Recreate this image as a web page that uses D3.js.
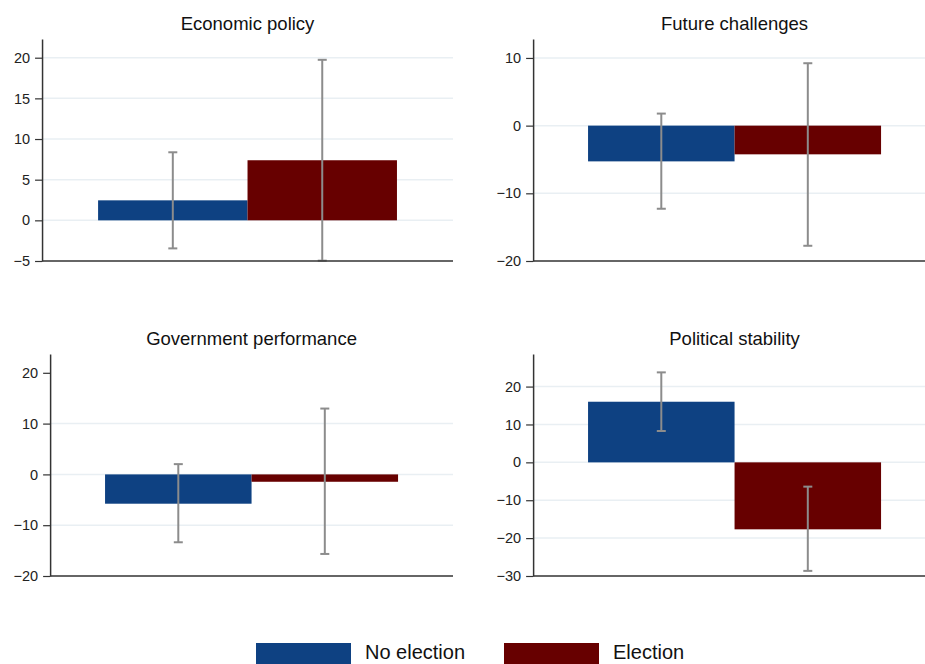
<!DOCTYPE html>
<html>
<head>
<meta charset="utf-8">
<script src="https://cdn.jsdelivr.net/npm/d3@7"></script>
<style>
  html, body { margin: 0; padding: 0; background: #fff; }
  svg { display: block; font-family: "Liberation Sans", Arial, Helvetica, sans-serif; }
</style>
</head>
<body>
<svg id="chart" width="925" height="664"></svg>
<script>
// Panel titles and the two groups compared in each panel
const panels = ["Economic policy", "Future challenges", "Government performance", "Political stability"];
const groups = ["No election", "Election"];
const colors = ["#0e4182", "#670000"];

// Point estimates per panel
const noElection = [2.46, -5.28, -5.77, 16.0];
const election   = [7.39, -4.24, -1.45, -17.68];

// Confidence intervals per panel
const noElectionLo = [-3.45, -12.28, -13.36, 8.28];
const noElectionHi = [8.37, 1.78, 2.02, 23.75];
const electionLo   = [-4.96, -17.75, -15.66, -28.65];
const electionHi   = [19.74, 9.22, 12.96, -6.41];

// Y axis ranges, tick labels and gridlines per panel
const yDomains = [[-5, 22.3], [-20, 12.8], [-20, 23.7], [-30, 28.6]];
const yTicks = [
  [-5, 0, 5, 10, 15, 20],
  [-20, -10, 0, 10],
  [-20, -10, 0, 10, 20],
  [-30, -20, -10, 0, 10, 20]
];
const yGrid = [
  [0, 5, 10, 15, 20],
  [-10, 0, 10],
  [-10, 0, 10],
  [-20, -10, 0, 10, 20]
];

const svg = d3.select("#chart");
const fmt = d3.format("d");

panels.forEach((title, i) => {
  const col = i % 2, row = Math.floor(i / 2);
  const x0 = col * 483, y0 = row * 315;
  const plotTop = y0 + 39, plotBottom = y0 + 261;
  const plotRight = x0 + 453;

  const y = d3.scaleLinear().domain(yDomains[i]).range([plotBottom, plotTop]);

  const g = svg.append("g");

  // axis, built first so the label width sets the left edge of the plot
  const axis = d3.axisLeft(y)
    .tickValues(yTicks[i])
    .tickFormat(fmt)
    .tickSize(7)
    .tickSizeOuter(0)
    .tickPadding(5);
  const axisG = g.append("g").call(axis);
  axisG.selectAll("text")
    .attr("font-size", "14.5px")
    .attr("font-family", "\"Liberation Sans\", Arial, sans-serif")
    .attr("fill", "#222");
  let maxW = 0;
  axisG.selectAll("text").each(function () {
    maxW = Math.max(maxW, this.getBBox().width);
  });
  const axisX = x0 + 13.5 + maxW + 12;
  axisG.attr("transform", `translate(${axisX},0)`);
  axisG.select(".domain").attr("stroke", "#333").attr("stroke-width", 1.5);
  axisG.selectAll(".tick line").attr("stroke", "#333").attr("stroke-width", 1.2);

  const x = d3.scaleBand()
    .domain(groups)
    .range([axisX, plotRight])
    .paddingInner(0)
    .paddingOuter(0.375);

  // gridlines
  const grid = g.insert("g", ":first-child");
  grid.selectAll("line")
    .data(yGrid[i])
    .join("line")
    .attr("x1", axisX)
    .attr("x2", x0 + 453 + (col === 1 ? 30 : 0))
    .attr("y1", d => y(d))
    .attr("y2", d => y(d))
    .attr("stroke", "#e9eff3")
    .attr("stroke-width", 1.5);

  const rows = [
    { group: groups[0], value: noElection[i], lo: noElectionLo[i], hi: noElectionHi[i], color: colors[0] },
    { group: groups[1], value: election[i], lo: electionLo[i], hi: electionHi[i], color: colors[1] }
  ];

  // bars
  const barsG = g.insert("g", function () { return axisG.node(); });
  barsG.selectAll("rect")
    .data(rows)
    .join("rect")
    .attr("x", d => x(d.group))
    .attr("width", x.bandwidth())
    .attr("y", d => Math.min(y(0), y(d.value)))
    .attr("height", d => Math.abs(y(d.value) - y(0)))
    .attr("fill", d => d.color);

  // confidence intervals
  const capHalf = 4.5;
  const errG = g.insert("g", function () { return axisG.node(); })
    .attr("stroke", "#8c8c8c")
    .attr("stroke-width", 2)
    .attr("fill", "none");
  rows.forEach(d => {
    const cx = x(d.group) + x.bandwidth() / 2;
    errG.append("line").attr("x1", cx).attr("x2", cx).attr("y1", y(d.lo)).attr("y2", y(d.hi));
    errG.append("line").attr("x1", cx - capHalf).attr("x2", cx + capHalf).attr("y1", y(d.lo)).attr("y2", y(d.lo));
    errG.append("line").attr("x1", cx - capHalf).attr("x2", cx + capHalf).attr("y1", y(d.hi)).attr("y2", y(d.hi));
  });

  // baseline of the plot region
  g.append("line")
    .attr("x1", axisX)
    .attr("x2", x0 + 453 + (col === 1 ? 30 : 0))
    .attr("y1", plotBottom)
    .attr("y2", plotBottom)
    .attr("stroke", "#333")
    .attr("stroke-width", 1.5);

  // panel title
  g.append("text")
    .attr("x", (axisX + x0 + 453) / 2)
    .attr("y", y0 + 30)
    .attr("text-anchor", "middle")
    .attr("font-size", "18.5px")
    .attr("fill", "#111")
    .text(title);
});

// legend
const legend = svg.append("g");
const legendX = [256, 504];
groups.forEach((name, k) => {
  legend.append("rect")
    .attr("x", legendX[k])
    .attr("y", 643)
    .attr("width", 95)
    .attr("height", 30)
    .attr("fill", colors[k]);
  legend.append("text")
    .attr("x", legendX[k] + 109)
    .attr("y", 659)
    .attr("font-size", "20px")
    .attr("fill", "#111")
    .text(name);
});
</script>
</body>
</html>
